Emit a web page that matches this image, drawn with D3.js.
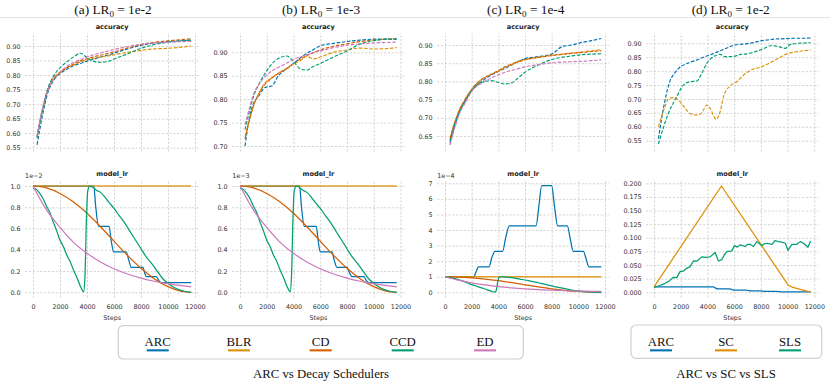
<!DOCTYPE html>
<html><head><meta charset="utf-8">
<script src="https://cdn.jsdelivr.net/npm/d3@7"></script>
<style>body{margin:0;background:#fff}svg{display:block}</style>
</head><body>
<svg id="c" width="830" height="383"></svg>
<script>
// ================= DATA =================
const colorMap = {ARC:"#0173b2", BLR:"#de8f05", CD:"#d55e00", CCD:"#029e73", ED:"#cc78bc", SC:"#de8f05", SLS:"#029e73"};
const xTicks = [0, 2000, 4000, 6000, 8000, 10000, 12000];

// ---- accuracy (a) LR0=1e-2 ----
const accStepsA = [300, 700, 1100, 1500, 2000, 2500, 3000, 3500, 4000, 4500, 5000, 5500, 6000, 7000, 8000, 9000, 10000, 11000, 11720];
const accA_ARC = [0.56, 0.66, 0.74, 0.78, 0.805, 0.82, 0.832, 0.84, 0.848, 0.855, 0.862, 0.868, 0.875, 0.89, 0.902, 0.91, 0.915, 0.918, 0.92];
const accA_BLR = [0.59, 0.68, 0.75, 0.79, 0.81, 0.825, 0.835, 0.845, 0.852, 0.858, 0.862, 0.866, 0.87, 0.878, 0.885, 0.89, 0.892, 0.896, 0.90];
const accA_CD  = [0.585, 0.68, 0.75, 0.785, 0.808, 0.825, 0.838, 0.848, 0.856, 0.863, 0.868, 0.874, 0.88, 0.893, 0.905, 0.913, 0.918, 0.922, 0.925];
const accA_CCD = [0.585, 0.68, 0.755, 0.795, 0.825, 0.845, 0.862, 0.875, 0.86, 0.847, 0.844, 0.846, 0.855, 0.873, 0.892, 0.905, 0.913, 0.918, 0.92];
const accA_ED  = [0.59, 0.685, 0.75, 0.785, 0.81, 0.83, 0.843, 0.853, 0.862, 0.87, 0.876, 0.882, 0.888, 0.898, 0.906, 0.91, 0.913, 0.915, 0.916];

// ---- accuracy (b) LR0=1e-3 ----
const accStepsB = [375, 750, 1000, 1375, 1875, 2375, 2875, 3500, 4000, 4500, 5000, 5500, 6000, 7000, 8000, 9000, 10000, 11000, 11720];
const accB_ARC = [0.70, 0.767, 0.79, 0.806, 0.825, 0.828, 0.85, 0.865, 0.876, 0.888, 0.898, 0.906, 0.914, 0.919, 0.923, 0.926, 0.928, 0.928, 0.928];
const accB_BLR = [0.72, 0.76, 0.785, 0.81, 0.835, 0.845, 0.856, 0.865, 0.875, 0.882, 0.891, 0.886, 0.89, 0.90, 0.905, 0.909, 0.907, 0.908, 0.91];
const accB_CD  = [0.715, 0.76, 0.785, 0.81, 0.832, 0.845, 0.855, 0.866, 0.876, 0.885, 0.893, 0.899, 0.905, 0.913, 0.918, 0.923, 0.926, 0.928, 0.929];
const accB_CCD = [0.735, 0.78, 0.805, 0.83, 0.855, 0.875, 0.887, 0.892, 0.88, 0.865, 0.862, 0.87, 0.876, 0.89, 0.903, 0.918, 0.925, 0.928, 0.928];
const accB_ED  = [0.745, 0.785, 0.81, 0.83, 0.848, 0.86, 0.868, 0.877, 0.885, 0.89, 0.895, 0.90, 0.903, 0.91, 0.915, 0.918, 0.92, 0.921, 0.922];

// ---- accuracy (c) LR0=1e-4 ----
const accStepsC = [375, 750, 1125, 1500, 2000, 2750, 3500, 4000, 4500, 5000, 5500, 6000, 7000, 8000, 8750, 9500, 10125, 11000, 11720];
const accC_ARC = [0.63, 0.68, 0.72, 0.745, 0.776, 0.80, 0.818, 0.827, 0.836, 0.845, 0.855, 0.863, 0.868, 0.875, 0.895, 0.90, 0.906, 0.912, 0.918];
const accC_BLR = [0.645, 0.69, 0.725, 0.75, 0.778, 0.806, 0.82, 0.828, 0.838, 0.846, 0.853, 0.859, 0.866, 0.872, 0.875, 0.878, 0.88, 0.884, 0.887];
const accC_CD  = [0.64, 0.69, 0.725, 0.75, 0.778, 0.805, 0.82, 0.83, 0.84, 0.848, 0.855, 0.86, 0.866, 0.871, 0.874, 0.877, 0.879, 0.882, 0.884];
const accC_CCD = [0.635, 0.685, 0.72, 0.745, 0.775, 0.797, 0.802, 0.797, 0.793, 0.796, 0.81, 0.825, 0.845, 0.86, 0.866, 0.87, 0.873, 0.875, 0.876];
const accC_ED  = [0.625, 0.675, 0.715, 0.74, 0.772, 0.795, 0.81, 0.818, 0.825, 0.83, 0.835, 0.84, 0.846, 0.851, 0.853, 0.854, 0.855, 0.857, 0.859];

// ---- accuracy (d) ARC vs SC vs SLS ----
const accStepsD = [330, 800, 1200, 1500, 1800, 2000, 2400, 2700, 3100, 3600, 4000, 4400, 4800, 5100, 5500, 6000, 6600, 7000, 7500, 8000, 8500, 9000, 9500, 10000, 10500, 11000, 11720];
const accD_ARC = [0.557, 0.69, 0.765, 0.79, 0.808, 0.816, 0.826, 0.832, 0.838, 0.848, 0.855, 0.862, 0.87, 0.876, 0.884, 0.893, 0.897, 0.899, 0.903, 0.909, 0.912, 0.915, 0.916, 0.917, 0.918, 0.918, 0.919];
const accStepsD_SC = [330, 825, 1075, 1450, 1825, 2200, 2700, 3200, 3575, 3950, 4200, 4650, 4950, 5200, 5700, 6200, 6700, 7200, 8075, 9075, 9950, 10700, 11720];
const accD_SC = [0.60, 0.672, 0.70, 0.705, 0.696, 0.675, 0.648, 0.642, 0.65, 0.678, 0.666, 0.627, 0.654, 0.708, 0.747, 0.762, 0.786, 0.802, 0.816, 0.84, 0.862, 0.87, 0.876];
const accStepsD_SLS = [330, 1075, 1700, 2200, 2700, 3200, 3575, 3950, 4575, 4950, 5325, 5950, 6450, 6950, 7575, 8075, 8825, 9325, 9825, 10200, 10825, 11720];
const accD_SLS = [0.538, 0.648, 0.708, 0.75, 0.762, 0.764, 0.792, 0.828, 0.855, 0.86, 0.852, 0.853, 0.86, 0.862, 0.87, 0.878, 0.892, 0.888, 0.882, 0.896, 0.90, 0.902];

// ---- learning rates (values in units of LR0 for panels a-c) ----
const lrStepsBLR = [0, 11720];
const lrBLR = [1, 1];
const lrStepsCD = [0, 1000, 2000, 3000, 4000, 5000, 6000, 7000, 8000, 9000, 10000, 11000, 11720];
const lrCD = [1.0, 0.982, 0.93, 0.849, 0.743, 0.617, 0.481, 0.347, 0.226, 0.126, 0.053, 0.009, 0.0];
const lrED = [1.0, 0.775, 0.61, 0.47, 0.367, 0.285, 0.222, 0.172, 0.134, 0.104, 0.081, 0.063, 0.052];
const lrStepsCCD = [0, 250, 500, 750, 1000, 1250, 1500, 1750, 2000, 2250, 2500, 2750, 3000, 3250, 3500, 3650, 3750, 3850, 3950, 4050, 4200, 4400, 4700, 5000, 5300, 5600, 6000, 6400, 6800, 7200, 7600, 8000, 8400, 8800, 9200, 9600, 10000, 10400, 10800, 11200, 11720];
const lrCCD = [0.98, 0.97, 0.93, 0.88, 0.81, 0.75, 0.66, 0.58, 0.49, 0.43, 0.35, 0.29, 0.21, 0.14, 0.06, 0.02, 0.005, 0.15, 0.65, 0.95, 1.0, 0.99, 0.96, 0.94, 0.9, 0.85, 0.79, 0.72, 0.65, 0.57, 0.49, 0.41, 0.33, 0.27, 0.2, 0.13, 0.085, 0.05, 0.025, 0.01, 0.0];
const lrStepsARC_A = [0, 4500, 4650, 4860, 5630, 5800, 5975, 6900, 7100, 7280, 8150, 8280, 8400, 9140, 9320, 9500, 11720];
const lrARC_A = [1, 1, 0.8, 0.62, 0.62, 0.48, 0.38, 0.38, 0.3, 0.235, 0.235, 0.18, 0.147, 0.147, 0.11, 0.09, 0.09];
const lrStepsARC_B = [0, 4450, 4600, 4800, 5700, 5850, 6000, 6875, 7050, 7250, 8000, 8200, 8375, 9250, 9450, 9625, 11720];
const lrARC_B = [1, 1, 0.8, 0.62, 0.62, 0.48, 0.38, 0.38, 0.3, 0.235, 0.235, 0.18, 0.147, 0.147, 0.11, 0.09, 0.09];
const lrStepsARC_C = [0, 2150, 2350, 2500, 3300, 3500, 3750, 4325, 4550, 4825, 6825, 7050, 7250, 8000, 8200, 8450, 9175, 9400, 9625, 10375, 10600, 10800, 11720];
const lrARC_C = [1, 1, 1.35, 1.63, 1.63, 2.2, 2.63, 2.63, 3.5, 4.26, 4.26, 5.6, 6.85, 6.85, 5.6, 4.26, 4.26, 3.4, 2.63, 2.63, 2.1, 1.63, 1.63];
// panel (d), absolute values
const lrStepsARC_D = [0, 4450, 4600, 4800, 5700, 5850, 6000, 6900, 7100, 7250, 8000, 8200, 8400, 9200, 9400, 9550, 11720];
const lrARC_D = [0.01, 0.01, 0.0078, 0.0062, 0.0062, 0.0048, 0.0038, 0.0038, 0.003, 0.0024, 0.0024, 0.0018, 0.0015, 0.0015, 0.0011, 0.0009, 0.0009];
const lrStepsSC = [0, 5050, 10050, 10400, 11720];
const lrSC = [0.01, 0.195, 0.013, 0.009, 0.0005];
const lrStepsSLS = [0, 400, 825, 1100, 1450, 1700, 1950, 2200, 2450, 2700, 2950, 3200, 3575, 3900, 4200, 4575, 4825, 5075, 5250, 5450, 5825, 6025, 6250, 6450, 6825, 7000, 7200, 7450, 7700, 8075, 8250, 8450, 8825, 9075, 9300, 9575, 9825, 10025, 10325, 10700, 10950, 11200, 11525, 11720];
const lrSLS = [0.009, 0.012, 0.0165, 0.02, 0.0275, 0.027, 0.038, 0.039, 0.044, 0.047, 0.0575, 0.057, 0.065, 0.064, 0.065, 0.073, 0.0575, 0.06, 0.068, 0.0746, 0.076, 0.0856, 0.083, 0.087, 0.084, 0.088, 0.088, 0.084, 0.093, 0.0856, 0.089, 0.09, 0.088, 0.095, 0.093, 0.092, 0.09, 0.077, 0.088, 0.088, 0.093, 0.09, 0.0826, 0.094];

// tick labels
const accTicksA = [0.55, 0.60, 0.65, 0.70, 0.75, 0.80, 0.85, 0.90];
const accTicksB = [0.70, 0.75, 0.80, 0.85, 0.90];
const accTicksC = [0.65, 0.70, 0.75, 0.80, 0.85, 0.90];
const accTicksD = [0.55, 0.60, 0.65, 0.70, 0.75, 0.80, 0.85, 0.90];
const lrTicksAB = [0, 0.2, 0.4, 0.6, 0.8, 1.0];
const lrTicksC = [0, 1, 2, 3, 4, 5, 6, 7];
const lrTicksD = [0, 0.025, 0.05, 0.075, 0.1, 0.125, 0.15, 0.175, 0.2];
const titleLetters = ["(a)", "(b)", "(c)", "(d)"];
const titleLR = ["1e-2", "1e-3", "1e-4", "1e-2"];
const offsetTexts = ["1e\u22122", "1e\u22123", "1e\u22124", ""];
const legend1 = ["ARC", "BLR", "CD", "CCD", "ED"];
const legend2 = ["ARC", "SC", "SLS"];
const caption1 = "ARC vs Decay Schedulers";
const caption2 = "ARC vs SC vs SLS";

// ================= LAYOUT =================
const svg = d3.select("#c");
const ACC_TOP = 33, ACC_BOT = 151.5, LR_TOP = 180.5, LR_BOT = 297.6;
const SANS = "DejaVu Sans", SERIF = "Liberation Serif, Times New Roman, serif";

const ser = (name, steps, vals, linear) => ({name, steps, vals, linear: !!linear});
const panels = [
  {x0:33, x1:195, titleX:113,
   acc:{dom:[0.55,0.90], rng:[147.7,46], ticks:accTicksA, series:[ser("ARC",accStepsA,accA_ARC),ser("BLR",accStepsA,accA_BLR),ser("CD",accStepsA,accA_CD),ser("CCD",accStepsA,accA_CCD),ser("ED",accStepsA,accA_ED)]},
   lr:{dom:[0,1], rng:[292.3,186], ticks:lrTicksAB, fmt:".1f", series:[ser("ARC",lrStepsARC_A,lrARC_A),ser("BLR",lrStepsBLR,lrBLR),ser("CD",lrStepsCD,lrCD),ser("CCD",lrStepsCCD,lrCCD),ser("ED",lrStepsCD,lrED)]}},
  {x0:240, x1:400.5, titleX:321,
   acc:{dom:[0.70,0.90], rng:[146,52.3], ticks:accTicksB, series:[ser("ARC",accStepsB,accB_ARC),ser("BLR",accStepsB,accB_BLR),ser("CD",accStepsB,accB_CD),ser("CCD",accStepsB,accB_CCD),ser("ED",accStepsB,accB_ED)]},
   lr:{dom:[0,1], rng:[292.3,186], ticks:lrTicksAB, fmt:".1f", series:[ser("ARC",lrStepsARC_B,lrARC_B),ser("BLR",lrStepsBLR,lrBLR),ser("CD",lrStepsCD,lrCD),ser("CCD",lrStepsCCD,lrCCD),ser("ED",lrStepsCD,lrED)]}},
  {x0:445, x1:605, titleX:525.7,
   acc:{dom:[0.65,0.90], rng:[136,45], ticks:accTicksC, series:[ser("ARC",accStepsC,accC_ARC),ser("BLR",accStepsC,accC_BLR),ser("CD",accStepsC,accC_CD),ser("CCD",accStepsC,accC_CCD),ser("ED",accStepsC,accC_ED)]},
   lr:{dom:[0,7], rng:[292.3,183.3], ticks:lrTicksC, fmt:"d", series:[ser("ARC",lrStepsARC_C,lrARC_C),ser("BLR",lrStepsBLR,lrBLR),ser("CD",lrStepsCD,lrCD),ser("CCD",lrStepsCCD,lrCCD),ser("ED",lrStepsCD,lrED)]}},
  {x0:654, x1:814.3, titleX:730.7,
   acc:{dom:[0.55,0.90], rng:[140.7,43.3], ticks:accTicksD, series:[ser("ARC",accStepsD,accD_ARC),ser("SC",accStepsD_SC,accD_SC),ser("SLS",accStepsD_SLS,accD_SLS)]},
   lr:{dom:[0,0.2], rng:[292.3,183.3], ticks:lrTicksD, fmt:".3f", series:[ser("ARC",lrStepsARC_D,lrARC_D),ser("SC",lrStepsSC,lrSC,true),ser("SLS",lrStepsSLS,lrSLS,true)]}}
];

// separator line under titles
svg.append("line").attr("x1",0).attr("x2",830).attr("y1",17.5).attr("y2",17.5)
  .attr("stroke","#e4e4e4").attr("stroke-width",1);

function styleAxis(g){
  g.select(".domain").remove();
  g.attr("font-family", SANS).attr("font-size", 6.4);
  g.selectAll(".tick line").attr("stroke","#c9c9c9").attr("stroke-width",0.8).attr("stroke-dasharray","2.2,1.6");
  g.selectAll(".tick text").attr("fill","#333");
}

panels.forEach((p, i) => {
  const x = d3.scaleLinear().domain([0,12000]).range([p.x0, p.x1]);
  const left = x(-586), right = x(12306);

  // subfigure title
  const t = svg.append("text").attr("x", p.titleX).attr("y", 14).attr("text-anchor","middle")
    .attr("font-family", SERIF).attr("font-size", 13.3).attr("fill","#111");
  t.append("tspan").text(titleLetters[i] + " LR");
  t.append("tspan").attr("font-size", 9).attr("dy", 2.5).text("0");
  t.append("tspan").attr("dy", -2.5).text(" = " + titleLR[i]);

  [["acc", ACC_TOP, ACC_BOT, "accuracy", 28.8], ["lr", LR_TOP, LR_BOT, "model_lr", 175.7]].forEach(([k, top, bot, label, ty]) => {
    const cfg = p[k];
    const y = d3.scaleLinear().domain(cfg.dom).range(cfg.rng);
    const g = svg.append("g");
    // grid + x tick labels
    const gx = g.append("g").attr("transform", `translate(0,${bot})`)
      .call(d3.axisBottom(x).tickValues(xTicks).tickSize(-(bot-top)).tickPadding(7.2)
        .tickFormat(k === "lr" ? d3.format("d") : () => ""));
    styleAxis(gx);
    const gy = g.append("g").attr("transform", `translate(${left},0)`)
      .call(d3.axisLeft(y).tickValues(cfg.ticks).tickSize(-(right-left)).tickPadding(4.5)
        .tickFormat(d3.format(cfg.fmt || ".2f")));
    styleAxis(gy);
    // title
    g.append("text").attr("x",(left+right)/2).attr("y",ty).attr("text-anchor","middle")
      .attr("font-family",SANS).attr("font-weight","bold").attr("font-size",6.6).attr("fill","#222").text(label);
    // lines
    cfg.series.forEach(s => {
      const pts = s.steps.map((st, j) => [st, s.vals[j]]);
      const line = d3.line().x(d => x(d[0])).y(d => y(d[1]))
        .curve(s.linear ? d3.curveLinear : d3.curveMonotoneX);
      const path = g.append("path").attr("d", line(pts)).attr("fill","none")
        .attr("stroke", colorMap[s.name]).attr("stroke-linejoin","round");
      if (k === "acc") path.attr("stroke-width",1.15).attr("stroke-dasharray","3.6,1.6");
      else path.attr("stroke-width", s.name === "BLR" ? 1.5 : 1.25).attr("opacity", s.name === "BLR" ? 0.85 : 1);
    });
    if (k === "lr") {
      if (offsetTexts[i]) g.append("text").attr("x", left).attr("y", 178).attr("font-family",SANS)
        .attr("font-size",6.4).attr("fill","#333").text(offsetTexts[i]);
      g.append("text").attr("x",(left+right)/2).attr("y",319.5).attr("text-anchor","middle")
        .attr("font-family",SANS).attr("font-size",6.4).attr("fill","#333").text("Steps");
    }
  });
});

// legends
function legendBox(bx, by, bw, bh, names, centers, caption, capX){
  svg.append("rect").attr("x",bx).attr("y",by).attr("width",bw).attr("height",bh).attr("rx",5)
    .attr("fill","#fff").attr("stroke","#cfcfcf").attr("stroke-width",1.2);
  names.forEach((n, j) => {
    svg.append("text").attr("x",centers[j]).attr("y",345.5).attr("text-anchor","middle")
      .attr("font-family",SERIF).attr("font-size",12.8).attr("fill","#111").text(n);
    svg.append("rect").attr("x",centers[j]-11).attr("y",349.3).attr("width",22).attr("height",2.1)
      .attr("fill",colorMap[n]);
  });
  svg.append("text").attr("x",capX).attr("y",377.5).attr("text-anchor","middle")
    .attr("font-family",SERIF).attr("font-size",12.8).attr("fill","#111").text(caption);
}
legendBox(118.3, 325.7, 405, 33.3, legend1, [157.7, 239, 320.7, 402.7, 485], caption1, 321);
legendBox(631, 325, 190.7, 33.3, legend2, [661, 726, 790], caption2, 726);
</script>
</body></html>
